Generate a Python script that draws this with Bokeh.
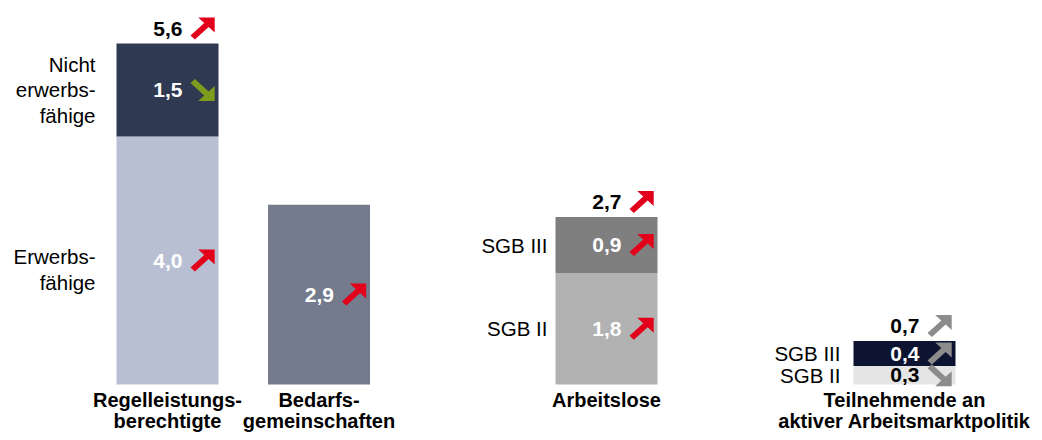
from bokeh.plotting import figure
from bokeh.models import Range1d
from bokeh.core.properties import value
from bokeh.embed import file_html
from bokeh.resources import INLINE

# ---------------- data ----------------
categories = ["Regelleistungs-\nberechtigte", "Bedarfs-\ngemeinschaften",
              "Arbeitslose", "Teilnehmende an\naktiver Arbeitsmarktpolitik"]
lower_values = [4.0, 2.9, 1.8, 0.3]
upper_values = [1.5, 0.0, 0.9, 0.4]
total_labels = ["5,6", "", "2,7", "0,7"]
lower_names = ["Erwerbs-\nfähige", "", "SGB II", "SGB II"]
upper_names = ["Nicht\nerwerbs-\nfähige", "", "SGB III", "SGB III"]
lower_trend = ["up", "up", "up", "down"]
upper_trend = ["down", "", "up", "up"]
total_trend = ["up", "", "up", "up"]

# ---------------- style / layout ----------------
FONT = "Liberation Sans"
X_CENTER = [167, 318.5, 606, 904]
BAR_W = 102
NAME_GAP = [21, 0, 8, 13]
LOWER_NAME_DY = [-9, 0, 0, 0]   # px shift (negative = down)
LOWER_COLORS = ["#B9BFD2", "#737B8D", "#B2B2B2", "#E5E5E5"]
UPPER_COLORS = ["#2F3951", "#737B8D", "#7F7F7F", "#0D1431"]
LOWER_TXT = ["white", "white", "white", "black"]
UPPER_TXT = ["white", "white", "white", "white"]
RED, GREEN, GRAY = "#E2001A", "#7D9C1B", "#8C8C8C"
ARROW_COL = [{"up": RED, "down": GREEN}, {"up": RED, "down": GREEN},
             {"up": RED, "down": GREEN}, {"up": GRAY, "down": GRAY}]
S = 62.0  # px per unit
BASE_Y = 384
W, H = 1034, 432

p = figure(width=W, height=H, output_backend="svg", toolbar_location=None,
           x_range=Range1d(0, W),
           y_range=Range1d((BASE_Y - H) / S, BASE_Y / S),
           min_border=0)
p.axis.visible = False
p.xgrid.visible = False
p.ygrid.visible = False
p.outline_line_color = None
p.background_fill_color = "white"
p.border_fill_color = "white"

def fmt(v):
    return f"{v:.1f}".replace(".", ",")

# bars
p.vbar(x=X_CENTER, width=BAR_W, bottom=0, top=lower_values,
       fill_color=LOWER_COLORS, line_color=None)
ux, ub, ut, uc = [], [], [], []
for i, u in enumerate(upper_values):
    if u > 0:
        ux.append(X_CENTER[i]); ub.append(lower_values[i])
        ut.append(lower_values[i] + u); uc.append(UPPER_COLORS[i])
p.vbar(x=ux, width=BAR_W, bottom=ub, top=ut, fill_color=uc, line_color=None)

# arrows
NE = [(0, 4), (4, 0), (16.5, 12.5), (22, 7), (22, 22), (7, 22), (12.5, 16.5)]
SX = 1.1
arr_xs, arr_ys, arr_c = [], [], []
def add_arrow(x0, yv, direction, color):
    xs, ys = [], []
    for (ax, ay) in NE:
        if direction == "down":
            ay = 22 - ay
        xs.append(x0 + ax * SX)
        ys.append(yv + (ay - 11) / S)
    arr_xs.append(xs); arr_ys.append(ys); arr_c.append(color)

tx, ty, tt, tc = [], [], [], []
for i, xc in enumerate(X_CENTER):
    lo, up = lower_values[i], upper_values[i]
    ym = lo / 2
    tx.append(xc + 15); ty.append(ym); tt.append(fmt(lo)); tc.append(LOWER_TXT[i])
    add_arrow(xc + 23, ym, lower_trend[i], ARROW_COL[i][lower_trend[i]])
    if up > 0:
        ym = lo + up / 2
        tx.append(xc + 15); ty.append(ym); tt.append(fmt(up)); tc.append(UPPER_TXT[i])
        add_arrow(xc + 23, ym, upper_trend[i], ARROW_COL[i][upper_trend[i]])
    if total_labels[i]:
        ym = lo + up + 15 / S
        tx.append(xc + 15); ty.append(ym); tt.append(total_labels[i]); tc.append("black")
        add_arrow(xc + 23, ym, total_trend[i], ARROW_COL[i][total_trend[i]])

p.patches(xs=arr_xs, ys=arr_ys, fill_color=arr_c, line_color=None)
p.text(x=tx, y=ty, text=tt, text_color=tc, text_font=value(FONT),
       text_font_size="21px", text_font_style="bold",
       text_align="right", text_baseline="middle")

# segment names
nx, ny, nt = [], [], []
for i, xc in enumerate(X_CENTER):
    left = xc - BAR_W / 2 - NAME_GAP[i]
    if lower_names[i]:
        nx.append(left); ny.append(lower_values[i] / 2 + LOWER_NAME_DY[i] / S)
        nt.append(lower_names[i])
    if upper_names[i]:
        nx.append(left); ny.append(lower_values[i] + upper_values[i] / 2); nt.append(upper_names[i])
p.text(x=nx, y=ny, text=nt, text_color="black", text_font=value(FONT),
       text_font_size="20.5px", text_align="right", text_baseline="middle",
       text_line_height=1.12)

# category labels
p.text(x=X_CENTER, y=[-4 / S] * 4, text=categories, text_color="black",
       text_font=value(FONT), text_font_size="20px", text_font_style="bold",
       text_align="center", text_baseline="top", text_line_height=0.98)

open("out.html", "w").write(file_html(p, INLINE))
